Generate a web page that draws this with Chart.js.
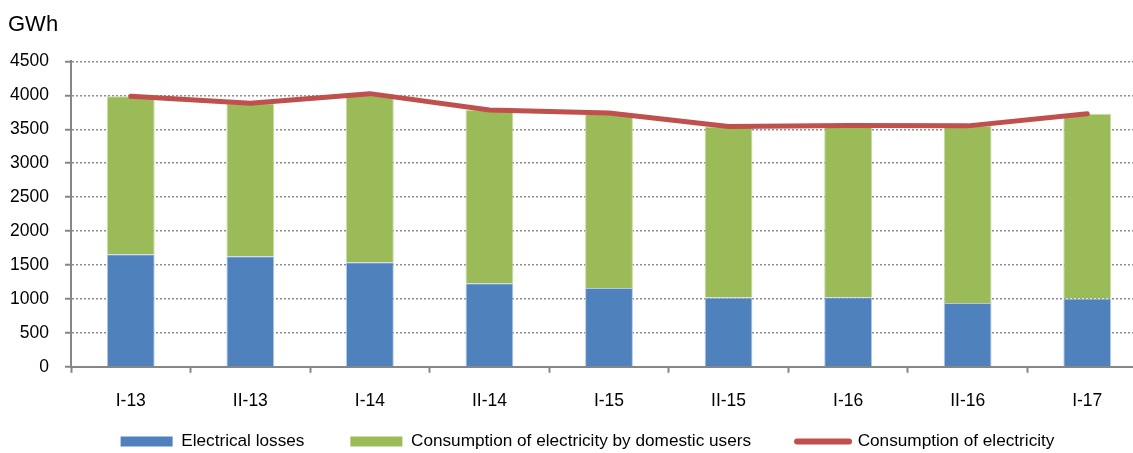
<!DOCTYPE html>
<html>
<head>
<meta charset="utf-8">
<script src="https://cdn.jsdelivr.net/npm/chart.js@4.4.1/dist/chart.umd.min.js"></script>
<style>
  html, body { margin: 0; padding: 0; background: #fff; overflow: hidden; }
  #wrap { position: relative; width: 1133px; height: 453px; overflow: hidden; }
  #chart { position: absolute; left: 0; top: 0; }
</style>
</head>
<body>
<div id="wrap"><canvas id="chart" width="1173" height="460"></canvas></div>
<script>
// half-year periods
const periods = ['I-13', 'II-13', 'I-14', 'II-14', 'I-15', 'II-15', 'I-16', 'II-16', 'I-17'];
// GWh
const losses = [1660, 1630, 1540, 1230, 1160, 1020, 1025, 940, 1005];
const domestic = [2325, 2255, 2485, 2555, 2580, 2520, 2530, 2610, 2725];
const consumption = [3985, 3885, 4025, 3785, 3740, 3540, 3555, 3550, 3730];
const yTicks = [0, 500, 1000, 1500, 2000, 2500, 3000, 3500, 4000, 4500];

const BLUE = '#4F81BD';
const GREEN = '#9BBB59';
const RED = '#C0504D';
const AXIS = '#868686';
const FONT = '"Liberation Sans", Arial, sans-serif';

// labels.padding pads vertically too, so the wide gaps between legend
// entries come from trailing spaces; the tail on the last entry pulls
// the row a little to the left
const LEGEND_GAP = ' '.repeat(9);
const LEGEND_TAIL = ' '.repeat(9);

Chart.defaults.font.family = FONT;
Chart.defaults.color = '#000';

new Chart(document.getElementById('chart'), {
    type: 'bar',
    data: {
        labels: periods,
        datasets: [
            {
                label: 'Electrical losses',
                data: losses,
                backgroundColor: BLUE,
                borderColor: '#b3c8e6',
                borderWidth: 1,
                barPercentage: 0.8,
                categoryPercentage: 0.5,
                stack: 'bars'
            },
            {
                label: 'Consumption of electricity by domestic users',
                data: domestic,
                backgroundColor: GREEN,
                borderColor: '#c8dca6',
                borderWidth: 1,
                barPercentage: 0.8,
                categoryPercentage: 0.5,
                stack: 'bars'
            },
            {
                type: 'line',
                label: 'Consumption of electricity',
                data: consumption,
                borderColor: RED,
                backgroundColor: RED,
                borderWidth: 5,
                borderCapStyle: 'round',
                borderJoinStyle: 'round',
                pointRadius: 0,
                tension: 0,
                stack: 'total',
                order: -1
            }
        ]
    },
    options: {
        responsive: false,
        animation: false,
        layout: { padding: { left: 8, right: 26, top: 0, bottom: 0 } },
        plugins: {
            tooltip: { enabled: false },
            title: {
                display: true,
                text: 'GWh',
                align: 'start',
                color: '#000',
                font: { size: 22, weight: 'normal' },
                padding: { top: 12, bottom: 23 }
            },
            legend: {
                position: 'bottom',
                fullSize: false,
                labels: {
                    usePointStyle: true,
                    pointStyleWidth: 52,
                    boxHeight: 10,
                    padding: 3,
                    color: '#000',
                    font: { size: 17.2 },
                    sort: (a, b) => a.datasetIndex - b.datasetIndex,
                    generateLabels: chart => {
                        const items = Chart.defaults.plugins.legend.labels.generateLabels(chart);
                        return items.map(item => {
                            if (item.datasetIndex === 2) {
                                item.pointStyle = 'line';
                                item.strokeStyle = RED;
                                item.lineWidth = 6;
                                item.lineCap = 'round';
                                item.text += LEGEND_TAIL;
                            } else {
                                item.pointStyle = 'rect';
                                item.lineWidth = 0;
                                item.text += LEGEND_GAP;
                            }
                            return item;
                        });
                    }
                }
            }
        },
        scales: {
            x: {
                stacked: true,
                grid: {
                    offset: true,
                    drawOnChartArea: false,
                    drawTicks: true,
                    tickLength: 6,
                    tickColor: AXIS,
                    tickWidth: 2
                },
                border: { display: true, color: AXIS, width: 2 },
                ticks: { padding: 18, font: { size: 17.5 }, color: '#000' }
            },
            y: {
                stacked: true,
                min: 0,
                max: 4500,
                afterFit: scale => { scale.width = 63; },
                afterBuildTicks: scale => { scale.ticks = yTicks.map(v => ({ value: v })); },
                grid: {
                    color: '#8c8c8c',
                    lineWidth: 1.5,
                    drawTicks: true,
                    tickLength: 6,
                    tickColor: AXIS,
                    tickWidth: 2
                },
                border: { display: true, color: AXIS, width: 2, dash: [2, 2] },
                ticks: {
                    padding: 16,
                    font: { size: 17.5 },
                    color: '#000',
                    callback: v => String(v)
                }
            }
        }
    }
});
</script>
</body>
</html>
